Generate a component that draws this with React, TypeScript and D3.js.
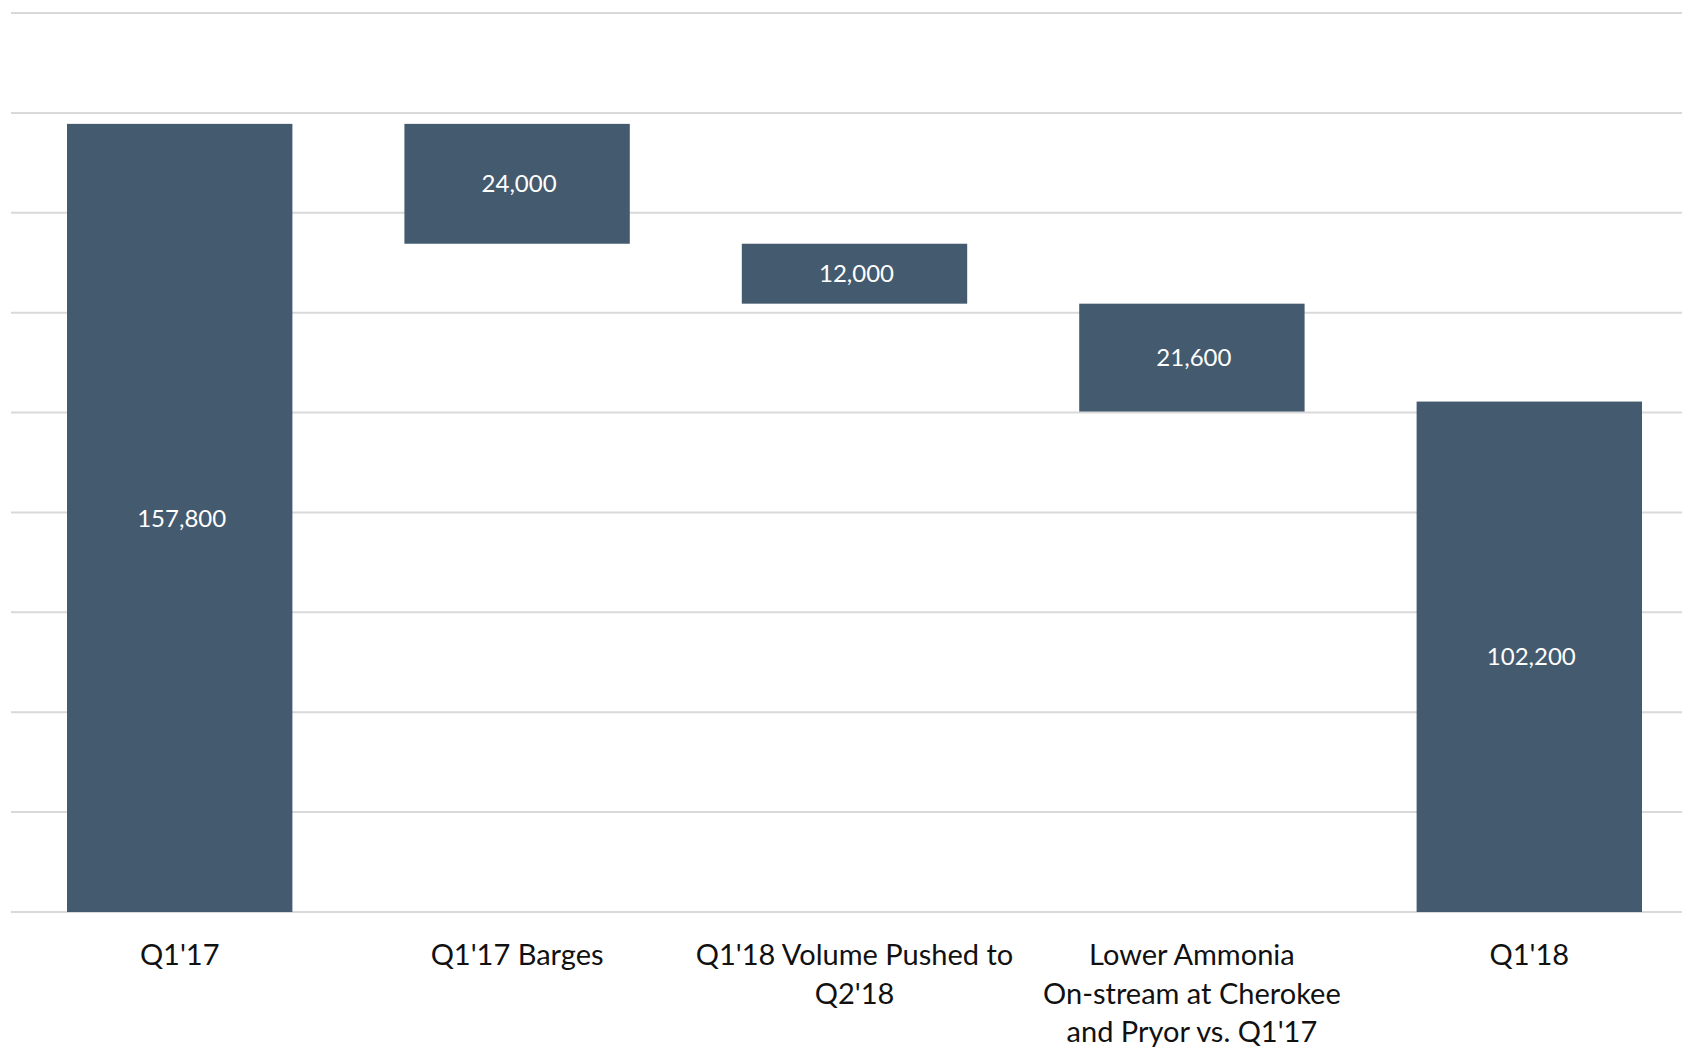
import React from 'react';
import * as d3 from 'd3';

// waterfall: Q1'17 -> Q1'18 volume bridge
const categories = ["Q1'17", "Q1'17 Barges", "Q1'18 Volume Pushed to Q2'18", "Lower Ammonia On-stream at Cherokee and Pryor vs. Q1'17", "Q1'18"];
const categoryLines = [
  ["Q1'17"],
  ["Q1'17 Barges"],
  ["Q1'18 Volume Pushed to", "Q2'18"],
  ["Lower Ammonia", "On-stream at Cherokee", "and Pryor vs. Q1'17"],
  ["Q1'18"],
];
const values = [157800, -24000, -12000, -21600, 102200];
const barKinds = ['total', 'delta', 'delta', 'delta', 'total'];
const yMax = 180000;

const W = 1682;
const H = 1047;
const BAR_COLOR = '#445a6e';
const GRID_COLOR = '#d9d9d9';
const FONT = 'Lato, "Open Sans", sans-serif';

export default function App() {
  const x = d3.scaleBand<string>()
    .domain(categories)
    .range([11, 1698])
    .paddingInner(0.332)
    .paddingOuter(0.166);

  const y = d3.scaleLinear().domain([0, yMax]).range([912, 13]);
  const ticks = y.ticks(9);
  const fmt = d3.format(',');

  // running totals for the floating bars
  let running = 0;
  const bars = categories.map((cat, i) => {
    let lo: number, hi: number;
    if (barKinds[i] === 'total') {
      lo = 0;
      hi = values[i];
      running = values[i];
    } else {
      const next = running + values[i];
      lo = Math.min(running, next);
      hi = Math.max(running, next);
      running = next;
    }
    return { cat, lo, hi, value: values[i], lines: categoryLines[i] };
  });

  return (
    <svg width={W} height={H} style={{ position: 'absolute', left: 0, top: 0, display: 'block' }}>
      <rect width={W} height={H} fill="#fff" />
      {ticks.map((t) => (
        <line key={t} x1={11} x2={W} y1={y(t)} y2={y(t)} stroke={GRID_COLOR} strokeWidth={2} />
      ))}
      {bars.map((b) => {
        const bx = x(b.cat) as number;
        const top = y(b.hi);
        const bottom = y(b.lo);
        return (
          <g key={b.cat}>
            <rect x={bx} y={top} width={x.bandwidth()} height={bottom - top} fill={BAR_COLOR} />
            <text
              x={bx + x.bandwidth() / 2 + 2}
              y={(top + bottom) / 2}
              dy="0.36em"
              textAnchor="middle"
              fill="#fff"
              fontFamily={FONT}
              fontSize={24}
            >
              {fmt(Math.abs(b.value))}
            </text>
          </g>
        );
      })}
      {bars.map((b) => (
        <text
          key={'lbl' + b.cat}
          textAnchor="middle"
          fill="#111"
          fontFamily={FONT}
          fontSize={29}
        >
          {b.lines.map((ln, j) => (
            <tspan key={j} x={(x(b.cat) as number) + x.bandwidth() / 2} y={y(0) + 53 + j * 38.6}>
              {ln}
            </tspan>
          ))}
        </text>
      ))}
    </svg>
  );
}
